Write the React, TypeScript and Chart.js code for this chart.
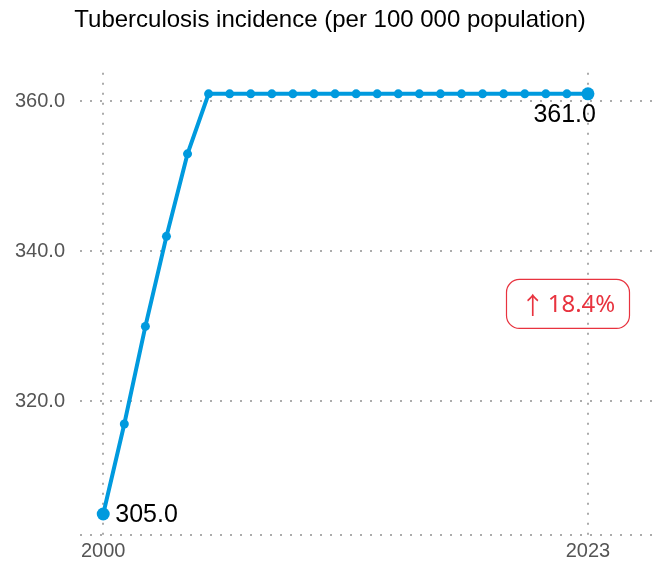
import React, { useEffect, useRef } from "react";
import { Chart, registerables } from "chart.js";

Chart.register(...registerables);

const years: number[] = [2000, 2001, 2002, 2003, 2004, 2005, 2006, 2007, 2008, 2009, 2010, 2011, 2012, 2013, 2014, 2015, 2016, 2017, 2018, 2019, 2020, 2021, 2022, 2023];
const incidence: number[] = [305, 317, 330, 342, 353, 361, 361, 361, 361, 361, 361, 361, 361, 361, 361, 361, 361, 361, 361, 361, 361, 361, 361, 361];
const yTicks: number[] = [320, 340, 360];
const xTicks: number[] = [2000, 2023];
const titleText = "Tuberculosis incidence (per 100 000 population)";
const changeArrow = "↑";
const changeText = "18.4%";

const FONT = "'Liberation Sans', Arial, sans-serif";
const BADGE_FONT = "'Noto Sans', 'Open Sans', sans-serif";
const LINE = "#009ADE";
const GRID = "#ababab";
const RED = "#E8333F";

const labelsPlugin = {
  id: "endLabels",
  afterDatasetsDraw(chart: any) {
    const meta = chart.getDatasetMeta(0);
    const pts = meta.data;
    const ctx = chart.ctx;
    ctx.save();
    ctx.font = `25px ${FONT}`;
    ctx.fillStyle = "#000";
    const first = pts[0];
    ctx.textAlign = "left";
    ctx.textBaseline = "middle";
    ctx.fillText(incidence[0].toFixed(1), first.x + 12, first.y + 1);
    const last = pts[pts.length - 1];
    ctx.textAlign = "right";
    ctx.textBaseline = "top";
    ctx.fillText(incidence[incidence.length - 1].toFixed(1), last.x + 8, last.y + 9);

    // change badge
    const area = chart.chartArea;
    const arrowFont = `24px 'Noto Sans CJK SC', ${BADGE_FONT}`;
    const textFont = `24px ${BADGE_FONT}`;
    ctx.font = arrowFont;
    const aw = ctx.measureText(changeArrow).width;
    ctx.font = textFont;
    const tw = ctx.measureText(changeText).width;
    const gap = 3;
    const total = aw + gap + tw;
    const w = 123;
    const h = 49;
    const right = area.right - 28;
    const cx = right - w / 2;
    const cy = (area.top + area.bottom) / 2;
    ctx.beginPath();
    ctx.roundRect(cx - w / 2, cy - h / 2, w, h, 13);
    ctx.strokeStyle = RED;
    ctx.lineWidth = 1.2;
    ctx.stroke();
    ctx.fillStyle = RED;
    ctx.textAlign = "left";
    ctx.textBaseline = "middle";
    const x0 = cx - total / 2;
    ctx.font = arrowFont;
    ctx.fillText(changeArrow, x0, cy + 1);
    ctx.font = textFont;
    ctx.fillText(changeText, x0 + aw + gap, cy + 1);
    ctx.restore();
  },
};

export default function App() {
  const ref = useRef<HTMLCanvasElement | null>(null);
  useEffect(() => {
    document.body.style.margin = "0";
    const canvas = ref.current!;
    const n = incidence.length;
    const chart = new Chart(canvas, {
      type: "line",
      data: {
        datasets: [
          {
            data: years.map((y, i) => ({ x: y, y: incidence[i] })),
            borderColor: LINE,
            backgroundColor: LINE,
            borderWidth: 4,
            pointRadius: incidence.map((_, i) => (i === 0 || i === n - 1 ? 6.5 : 4.5)),
            pointBorderWidth: 0,
            pointBackgroundColor: LINE,
            tension: 0,
          },
        ],
      },
      options: {
        responsive: false,
        animation: false,
        layout: { padding: { left: 0, right: 4, top: 0, bottom: 0 } },
        plugins: {
          legend: { display: false },
          tooltip: { enabled: false },
          title: {
            display: true,
            text: titleText,
            color: "#000",
            font: { family: FONT, size: 24, weight: "normal" },
            padding: { top: 6, bottom: 38 },
          },
        },
        scales: {
          x: {
            type: "linear",
            min: 1998.9,
            max: 2026.3,
            afterBuildTicks: (s: any) => {
              s.ticks = xTicks.map((v) => ({ value: v }));
            },
            ticks: {
              color: "#555",
              font: { family: FONT, size: 20 },
              padding: 4,
              maxRotation: 0,
              callback: (v: any) => String(v),
            },
            grid: { color: GRID, lineWidth: 2, drawTicks: false },
            border: { display: false, dash: [2, 8] },
          },
          y: {
            type: "linear",
            min: 302.2,
            max: 363.8,
            afterBuildTicks: (s: any) => {
              s.ticks = [s.min, ...yTicks].map((v) => ({ value: v }));
            },
            ticks: {
              color: "#555",
              font: { family: FONT, size: 20 },
              padding: 15,
              callback: (v: any) => (yTicks.includes(Number(v)) ? Number(v).toFixed(1) : ""),
            },
            grid: { color: GRID, lineWidth: 2, drawTicks: false },
            border: { display: false, dash: [2, 8] },
          },
        },
      },
      plugins: [labelsPlugin],
    } as any);
    return () => chart.destroy();
  }, []);
  return <canvas ref={ref} width={664} height={567} style={{ display: "block" }} />;
}
